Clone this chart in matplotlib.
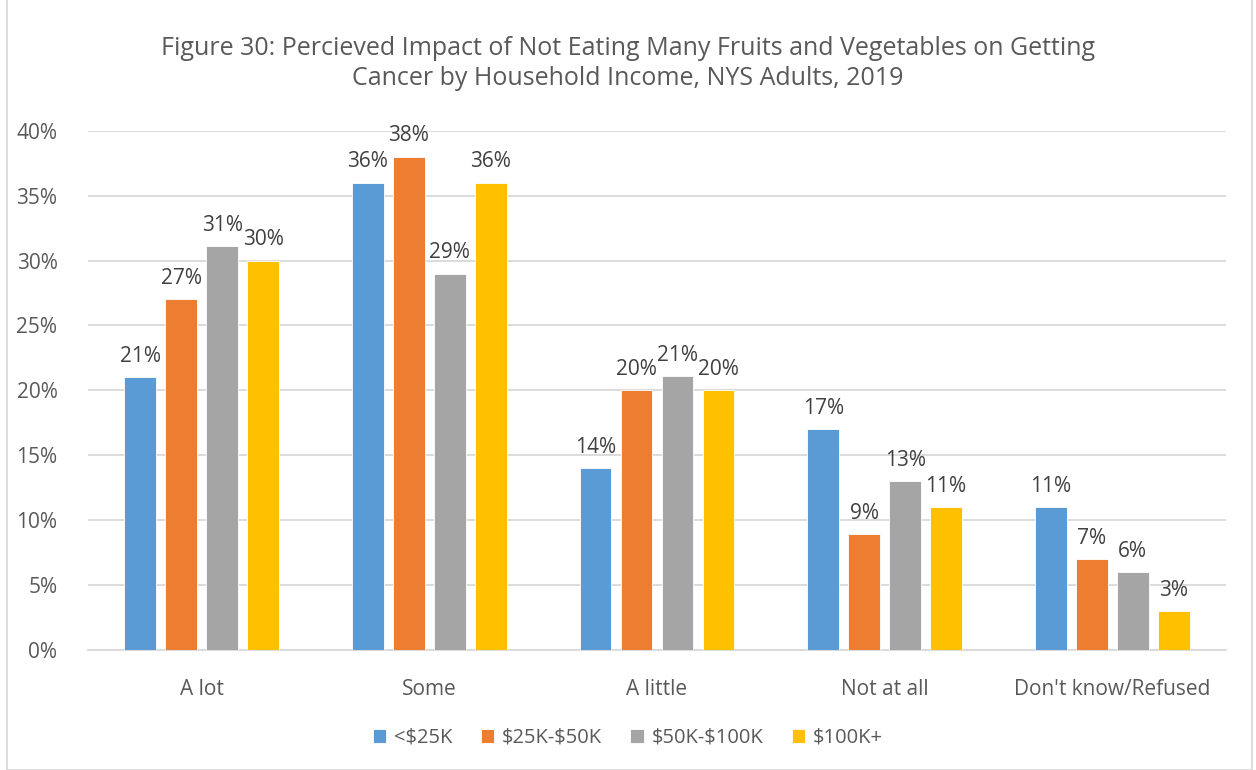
import matplotlib.pyplot as plt
import numpy as np

categories = ["A lot", "Some", "A little", "Not at all", "Don't know/Refused"]
series_names = ["<$25K", "$25K-$50K", "$50K-$100K", "$100K+"]
values = [
    [21, 36, 14, 17, 11],   # <$25K
    [27, 38, 20, 8.9, 7],   # $25K-$50K
    [31.1, 29, 21.1, 13, 6],  # $50K-$100K
    [30, 36, 20, 11, 3],    # $100K+
]
labels = [
    ["21%", "36%", "14%", "17%", "11%"],
    ["27%", "38%", "20%", "9%", "7%"],
    ["31%", "29%", "21%", "13%", "6%"],
    ["30%", "36%", "20%", "11%", "3%"],
]
colors = ["#5B9BD5", "#ED7D31", "#A5A5A5", "#FFC000"]
txt = "#595959"

plt.rcParams["font.family"] = ["Open Sans", "DejaVu Sans"]
plt.rcParams["text.parse_math"] = False

fig = plt.figure(figsize=(12.56, 7.7), dpi=100)
ax = fig.add_axes([88 / 1256, 1 - 650 / 770, (1226 - 88) / 1256, (650 - 130.7) / 770])

x = np.arange(len(categories))
w = 0.14
step = 0.18
for i, (name, vals) in enumerate(zip(series_names, values)):
    pos = x + (i - 1.5) * step
    bars = ax.bar(pos, vals, width=w, color=colors[i], label=name, zorder=3,
                  edgecolor="white", linewidth=0.6)
    for b, lab in zip(bars, labels[i]):
        ax.text(b.get_x() + b.get_width() / 2, b.get_height() + 0.8, lab,
                ha="center", va="bottom", fontsize=15, color="#404040")

ax.set_xlim(-0.5, len(categories) - 0.5)
ax.set_ylim(0, 40)
ax.set_yticks(range(0, 41, 5))
ax.set_yticklabels([f"{v}%" for v in range(0, 41, 5)])
ax.set_xticks(x)
ax.set_xticklabels(categories)
ax.yaxis.grid(True, color="#D9D9D9", linewidth=1.3, zorder=0)
ax.set_axisbelow(True)
for s in ["top", "right", "left"]:
    ax.spines[s].set_visible(False)
ax.spines["bottom"].set_color("#D9D9D9")
ax.spines["bottom"].set_linewidth(1.3)
ax.tick_params(axis="both", length=0, labelsize=15, colors=txt)
ax.tick_params(axis="y", pad=22)
ax.tick_params(axis="x", pad=21)

fig.text(0.5, 0.918, "Figure 30: Percieved Impact of Not Eating Many Fruits and Vegetables on Getting\nCancer by Household Income, NYS Adults, 2019",
         ha="center", va="center", fontsize=18, color=txt, linespacing=1.25)

fig.legend(loc="center", bbox_to_anchor=(0.5, 1 - 738 / 770), ncol=4, frameon=False,
           fontsize=14.5, labelcolor=txt, handlelength=0.65, handleheight=0.65,
           columnspacing=1.4, handletextpad=0.4)

border = plt.Rectangle((7 / 1256, 0), (1252 - 7) / 1256, 1.2, transform=fig.transFigure,
                       fill=False, edgecolor="#D9D9D9", linewidth=1.3)
fig.patches.append(border)

fig.savefig("out.png", dpi=100)
